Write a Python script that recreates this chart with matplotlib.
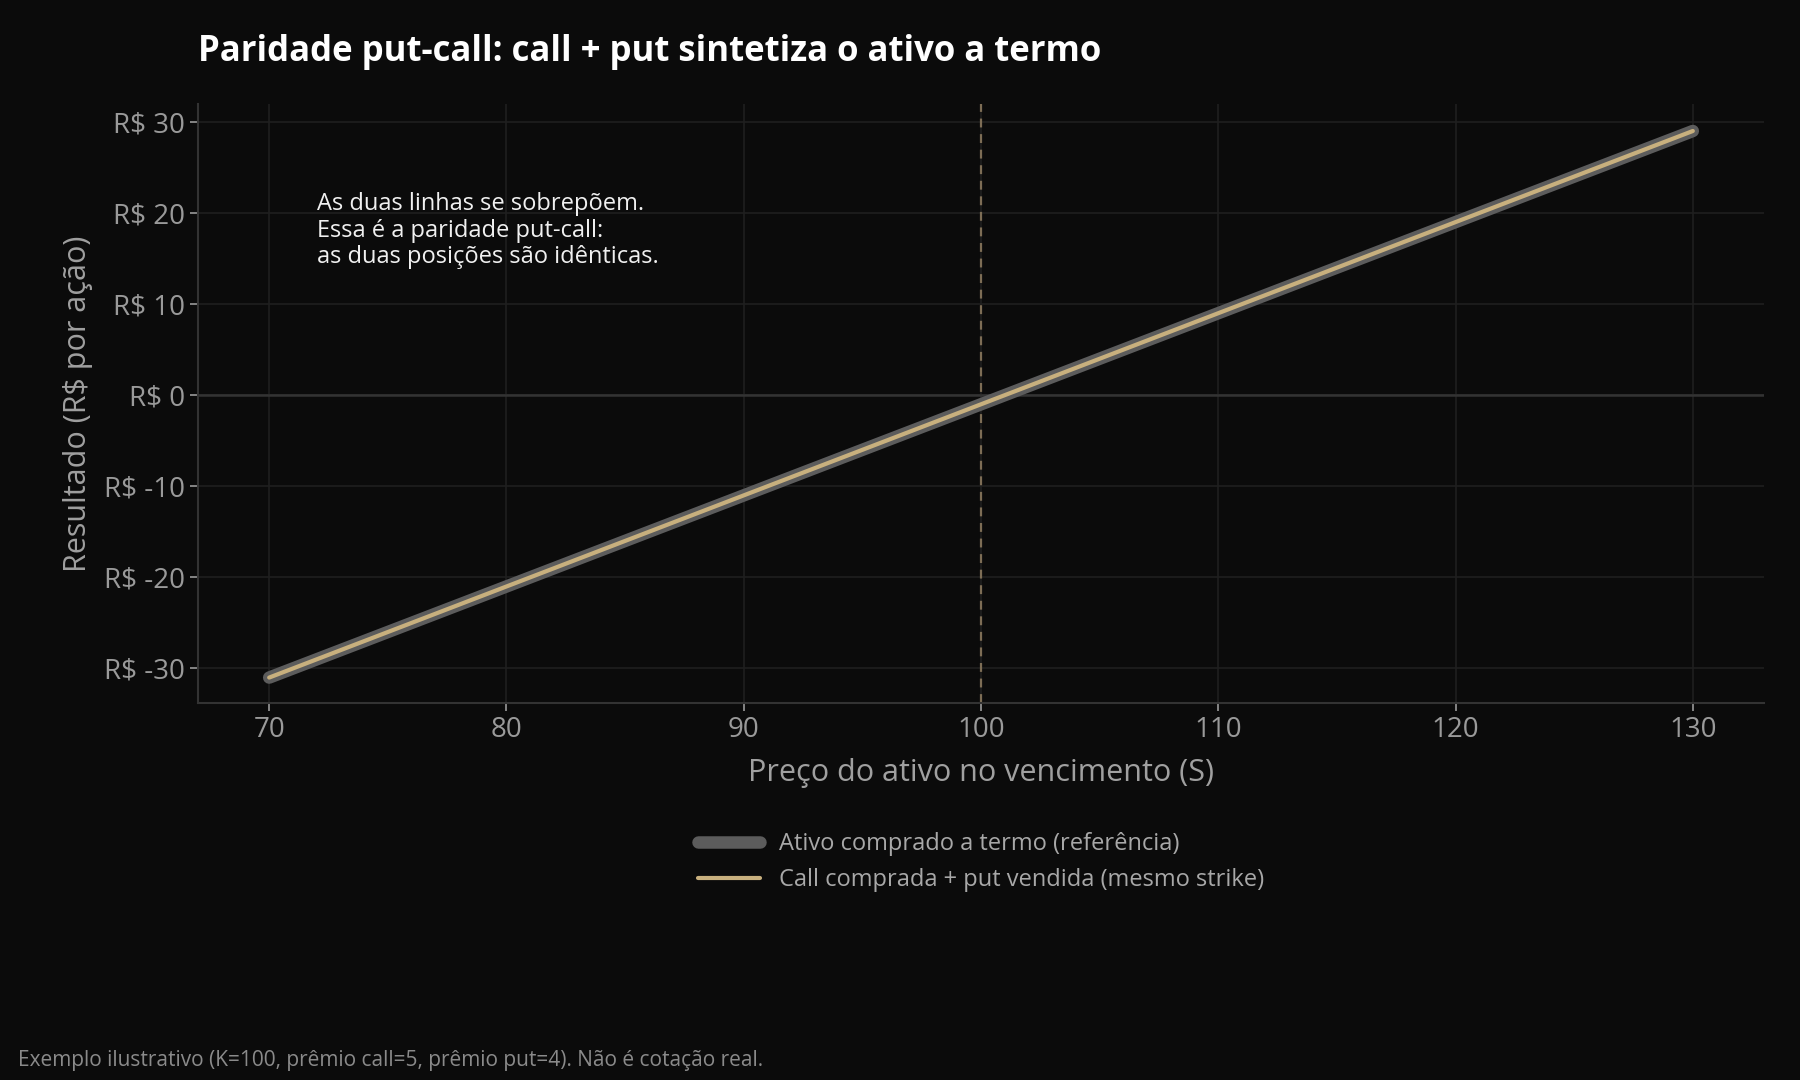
import matplotlib
matplotlib.use("Agg")
import matplotlib.pyplot as plt
import numpy as np

plt.rcParams['font.family'] = ['Open Sans', 'DejaVu Sans']

S = [70, 130]
forward = [-31, 29]
synthetic = [-31, 29]
strike = 100
yticks = [-30, -20, -10, 0, 10, 20, 30]
xticks = [70, 80, 90, 100, 110, 120, 130]

bg = '#0b0b0b'
fig = plt.figure(figsize=(18, 10.8), dpi=100, facecolor=bg)
ax = fig.add_axes([0.110, 0.349, 0.870, 0.555], facecolor=bg)

ax.plot(S, forward, color='#5c5c5c', lw=9, solid_capstyle='round',
        label='Ativo comprado a termo (referência)', zorder=3)
ax.plot(S, synthetic, color='#c8b07e', lw=3, solid_capstyle='round',
        label='Call comprada + put vendida (mesmo strike)', zorder=4)
ax.axvline(strike, color='#7d6d55', lw=1.6, ls=(0, (4, 3)), zorder=2)
ax.axhline(0, color='#333333', lw=1.8, zorder=1)

ax.set_xlim(67, 133)
ax.set_ylim(-33.8, 32)
ax.set_xticks(xticks)
ax.set_yticks(yticks)
ax.set_yticklabels([f'R$ {v}' for v in yticks])
ax.grid(True, color='#1f1f1f', lw=1.2)
ax.set_axisbelow(True)
for s in ['top', 'right']:
    ax.spines[s].set_visible(False)
for s in ['left', 'bottom']:
    ax.spines[s].set_color('#333333')
    ax.spines[s].set_linewidth(1.5)
ax.tick_params(colors='#9a9a9a', labelsize=20, length=6, width=1.2)
for t in ax.get_xticklabels() + ax.get_yticklabels():
    t.set_color('#9a9a9a')
ax.set_xlabel('Preço do ativo no vencimento (S)', color='#a0a0a0', fontsize=22, labelpad=10)
ax.set_ylabel('Resultado (R$ por ação)', color='#a0a0a0', fontsize=22, labelpad=8)

ax.text(72, 22.3, 'As duas linhas se sobrepõem.\nEssa é a paridade put-call:\nas duas posições são idênticas.',
        color='#f0f0f0', fontsize=17, va='top', ha='left', linespacing=1.15)

fig.text(0.110, 0.952, 'Paridade put-call: call + put sintetiza o ativo a termo',
         color='#ffffff', fontsize=25, fontweight='bold', ha='left', va='center')

leg = ax.legend(loc='upper center', bbox_to_anchor=(0.5, -0.18), frameon=False,
                fontsize=17, labelcolor='#a8a8a8', handlelength=2.6)

fig.text(0.010, 0.018, 'Exemplo ilustrativo (K=100, prêmio call=5, prêmio put=4). Não é cotação real.',
         color='#8a8a8a', fontsize=15, ha='left', va='center')

fig.savefig('out.png', dpi=100, facecolor=bg)
